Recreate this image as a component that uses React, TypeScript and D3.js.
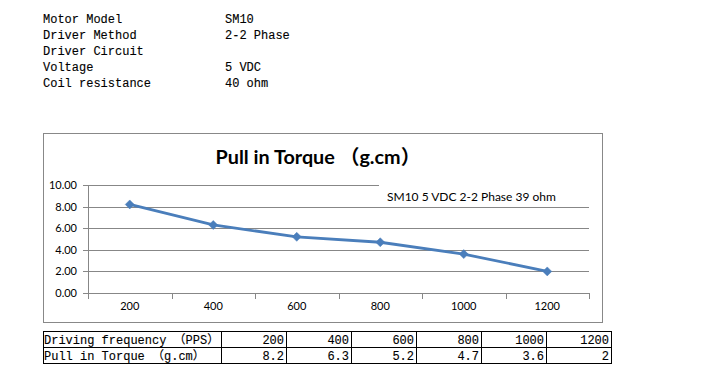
import React from "react";
import * as d3 from "d3";

const specLabels = ["Motor Model", "Driver Method", "Driver Circuit", "Voltage", "Coil resistance"];
const specValues = ["SM10", "2-2 Phase", "", "5 VDC", "40 ohm"];

const frequencies = ["200", "400", "600", "800", "1000", "1200"];
const torque = [8.2, 6.3, 5.2, 4.7, 3.6, 2];
const torqueText = ["8.2", "6.3", "5.2", "4.7", "3.6", "2"];
const yTicks = [0, 2, 4, 6, 8, 10];

const chartTitle = "Pull in Torque （g.cm）";
const seriesName = "SM10  5 VDC 2-2 Phase 39 ohm";
const rowLabels = ["Driving frequency （PPS）", "Pull in Torque （g.cm）"];

const MONO = "'Liberation Mono', 'Noto Sans CJK SC', monospace";
const SANS = "Lato, 'Noto Sans CJK SC', sans-serif";
const GRID = "#878787";
const BLUE = "#4A7EBB";

export default function App() {
  const x = d3.scaleBand<string>().domain(frequencies).range([88, 589]).paddingInner(0).paddingOuter(0);
  const y = d3.scaleLinear().domain([0, 10]).range([293, 185]);
  const line = d3
    .line<number>()
    .x((_, i) => (x(frequencies[i]) as number) + x.bandwidth() / 2)
    .y((d) => y(d));

  const boundaries = frequencies.map((f) => x(f) as number).concat([589]);

  const tX0 = 43;
  const firstW = 178;
  const colW = 65;
  const tY0 = 331;
  const rowH = 16;
  const tX1 = tX0 + firstW + colW * frequencies.length;

  return (
    <svg
      width={707}
      height={380}
      style={{ position: "absolute", left: 0, top: 0, background: "#fff" }}
    >
      <rect x={0} y={0} width={707} height={380} fill="#fff" />
      {specLabels.map((l, i) => (
        <g key={l} fontFamily={MONO} fontSize={12} fill="#000" stroke="#000" strokeWidth={0.12}>
          <text x={43} y={23 + i * 16}>{l}</text>
          <text x={225} y={23 + i * 16}>{specValues[i]}</text>
        </g>
      ))}

      <rect x={43.5} y={133.5} width={559} height={189} fill="#fff" stroke="#888" strokeWidth={1} />

      <text x={318} y={164} textAnchor="middle" fontFamily={SANS} fontWeight={700} fontSize={19.8} fill="#000">
        {chartTitle}
      </text>

      {yTicks.map((t) => (
        <g key={t}>
          <line x1={83} x2={589} y1={Math.round(y(t)) + 0.5} y2={Math.round(y(t)) + 0.5} stroke={GRID} strokeWidth={1} />
          <text x={77} y={y(t) + 4} textAnchor="end" fontFamily={SANS} fontSize={11} fill="#000">
            {t.toFixed(2)}
          </text>
        </g>
      ))}
      <line x1={88.5} x2={88.5} y1={y(10)} y2={y(0) + 1} stroke={GRID} />
      {boundaries.map((b, i) => (
        <line key={i} x1={Math.round(b) + 0.5} x2={Math.round(b) + 0.5} y1={y(0)} y2={y(0) + 6} stroke={GRID} />
      ))}
      {frequencies.map((f) => (
        <text
          key={f}
          x={(x(f) as number) + x.bandwidth() / 2}
          y={310}
          textAnchor="middle"
          fontFamily={SANS}
          fontSize={11}
          fill="#000"
        >
          {f}
        </text>
      ))}

      <rect x={379} y={180} width={210} height={24} fill="#fff" />
      <text x={387} y={201} fontFamily={SANS} fontSize={12} fill="#000">
        {seriesName}
      </text>

      <path d={line(torque) as string} fill="none" stroke={BLUE} strokeWidth={2.8} strokeLinejoin="round" />
      {torque.map((v, i) => {
        const cx = (x(frequencies[i]) as number) + x.bandwidth() / 2;
        const cy = y(v);
        const r = 4.5;
        return (
          <path
            key={i}
            d={`M${cx},${cy - r}L${cx + r},${cy}L${cx},${cy + r}L${cx - r},${cy}Z`}
            fill={BLUE}
            stroke={BLUE}
            strokeWidth={0.5}
          />
        );
      })}

      <g fontFamily={MONO} fontSize={12} fill="#000" stroke="#000" strokeWidth={0.12}>
        {[0, 1].map((r) => (
          <g key={r}>
            <text x={tX0 + 1} y={tY0 + r * rowH + 12.5}>{rowLabels[r]}</text>
            {frequencies.map((f, i) => (
              <text key={f} x={tX0 + firstW + colW * (i + 1) - 2} y={tY0 + r * rowH + 12.5} textAnchor="end">
                {r === 0 ? f : torqueText[i]}
              </text>
            ))}
          </g>
        ))}
      </g>
      <g stroke="#000" strokeWidth={1}>
        {[0, 1, 2].map((r) => (
          <line key={r} x1={tX0} x2={tX1 + 1} y1={tY0 + r * rowH + 0.5} y2={tY0 + r * rowH + 0.5} />
        ))}
        <line x1={tX0 + 0.5} x2={tX0 + 0.5} y1={tY0} y2={tY0 + 2 * rowH + 1} />
        {frequencies.map((f, i) => (
          <line
            key={f}
            x1={tX0 + firstW + colW * i + 0.5}
            x2={tX0 + firstW + colW * i + 0.5}
            y1={tY0}
            y2={tY0 + 2 * rowH + 1}
          />
        ))}
        <line x1={tX1 + 0.5} x2={tX1 + 0.5} y1={tY0} y2={tY0 + 2 * rowH + 1} />
      </g>
    </svg>
  );
}
